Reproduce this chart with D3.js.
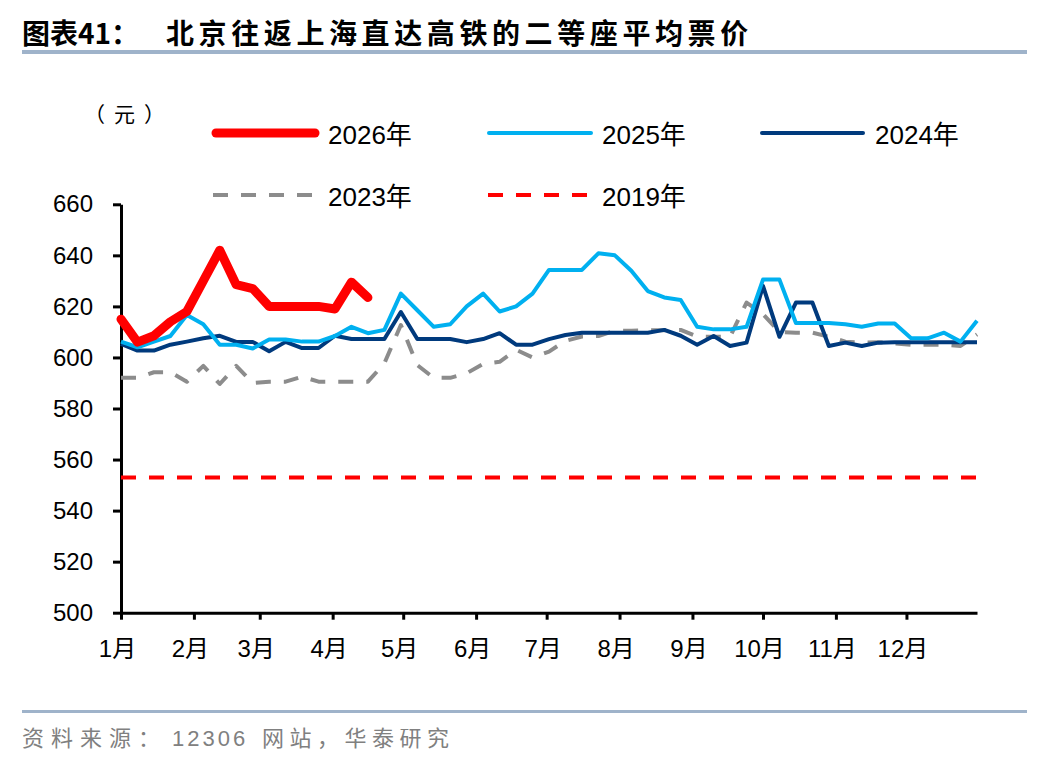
<!DOCTYPE html>
<html>
<head>
<meta charset="utf-8">
<script src="https://cdn.jsdelivr.net/npm/d3@7"></script>
<style>
  body { margin: 0; background: #fff; }
  text { font-family: "Liberation Sans", "Noto Sans CJK SC", sans-serif; }
</style>
</head>
<body>
<svg id="chart" width="1048" height="764"></svg>
<script>
// =========================
// DATA (weekly, week 0 = 1月1日)
// =========================

const monthLabels = ['1月', '2月', '3月', '4月', '5月', '6月', '7月', '8月', '9月', '10月', '11月', '12月'];
const yTicks = [500, 520, 540, 560, 580, 600, 620, 640, 660];

const s2026 = [615, 606, 608.5, 614, 618, 630, 642, 628.5, 627, 620, 620, 620, 620, 619, 629.5, 623.5];

const s2025 = [606.2, 604, 606.2, 608.4, 616.6, 613, 605, 605, 603.5, 607, 607, 606.2, 606.2, 608.4, 612, 609.5,
  610.8, 625, 618.5, 612, 613, 620, 625, 618, 620, 625, 634.3, 634.3, 634.3, 640.8, 640, 634,
  626, 623.5, 622.5, 612, 611, 611, 612, 630.5, 630.5, 613.5, 613.5, 613.5, 613, 612, 613.3, 613.3,
  607.5, 607.5, 609.7, 606.2, 614.4];

const s2024 = [605.3, 602.7, 602.7, 605, 606.2, 607.5, 608.5, 606.1, 606.1, 602.4, 606.1, 603.7, 603.7, 608.5, 607.2, 607.2,
  607.2, 617.8, 607.2, 607.2, 607.2, 606, 607.2, 609.5, 605, 605, 607.2, 608.8, 609.7, 609.7, 609.7, 609.7,
  609.7, 610.8, 608.5, 605, 608.4, 604.5, 605.8, 628, 608.1, 621.5, 621.5, 604.5, 605.8, 604.5, 605.8, 606,
  606, 606, 606, 606, 606];

const s2023 = [592, 592, 594.2, 594.2, 590.5, 596.7, 589.6, 596.7, 590, 590.5, 590.5, 592.5, 590.5, 590.5, 590.5, 590.5,
  597.7, 612.7, 597, 592, 592, 593.8, 597.5, 598.3, 603, 600, 602.3, 606.5, 608.2, 608.4, 610.5, 610.5,
  610.6, 610.7, 610.8, 608.2, 608.1, 608.1, 621.5, 617, 610, 609.7, 609.7, 608.1, 606.2, 605.8, 606, 605.5,
  605, 605, 605, 604.5, 609];

const s2019 = 553;

const seriesNames = ['2026年', '2025年', '2024年', '2023年', '2019年'];

// =========================
// SETUP
// =========================

const svg = d3.select('#chart');

const colors = {
  red: '#ff0000',
  lightBlue: '#00b0f0',
  navy: '#003a7d',
  gray: '#8c8c8c',
  rule: '#9fb3ca'
};

const year = 2025;
const start = new Date(year, 0, 1);
const end = new Date(year, 11, 31);
const weekDate = i => d3.timeDay.offset(start, i * 7);

const x = d3.scaleTime()
  .domain([start, end])
  .range([121, 977]);

const y = d3.scaleLinear()
  .domain([500, 660])
  .range([612.7, 204.3]);

// =========================
// TITLE + RULES
// =========================

const title = svg.append('text')
  .attr('x', 22)
  .attr('y', 44)
  .style('font-family', '"Noto Sans CJK SC", sans-serif')
  .style('font-weight', 700)
  .style('font-size', '28px')
  .attr('fill', '#000');

title.append('tspan').text('图表41：');
title.append('tspan')
  .attr('x', 166)
  .style('letter-spacing', '4.6px')
  .text('北京往返上海直达高铁的二等座平均票价');

svg.append('rect')
  .attr('x', 22).attr('y', 50)
  .attr('width', 1005).attr('height', 4)
  .attr('fill', colors.rule);

svg.append('rect')
  .attr('x', 22).attr('y', 710)
  .attr('width', 1005).attr('height', 3)
  .attr('fill', colors.rule);

// source line
const source = svg.append('text')
  .attr('y', 746)
  .style('font-size', '22px')
  .attr('fill', '#808080');

source.append('tspan').attr('x', 22).style('letter-spacing', '7px').text('资料来源：');
source.append('tspan').attr('x', 172).style('letter-spacing', '3px').text('12306');
source.append('tspan').attr('x', 262).style('letter-spacing', '5.5px').text('网站，华泰研究');

svg.append('text')
  .attr('x', 84)
  .attr('y', 113)
  .attr('dominant-baseline', 'central')
  .style('font-family', '"Noto Sans CJK SC", sans-serif')
  .style('font-size', '21px')
  .style('letter-spacing', '9px')
  .attr('fill', '#000')
  .text('（元）');

// =========================
// AXES
// =========================

const yAxis = svg.append('g')
  .attr('transform', `translate(${x(start)},0)`)
  .call(d3.axisLeft(y).tickValues(yTicks).tickSize(8).tickSizeOuter(0).tickPadding(20));

yAxis.selectAll('text')
  .style('font-size', '24px')
  .attr('fill', '#000');

const monthTicks = d3.timeMonth.range(start, end);

const xAxis = svg.append('g')
  .attr('transform', `translate(0,${y(500)})`)
  .call(d3.axisBottom(x)
    .tickValues(monthTicks)
    .tickFormat((d, i) => monthLabels[i])
    .tickSize(7)
    .tickSizeOuter(0)
    .tickPadding(20));

xAxis.selectAll('text')
  .style('font-size', '24px')
  .attr('dx', -4)
  .attr('fill', '#000');

svg.selectAll('.domain, .tick line')
  .attr('stroke', '#000')
  .attr('stroke-width', 3);

// =========================
// LINES
// =========================

const line = d3.line()
  .x((d, i) => x(weekDate(i)))
  .y(d => y(d));

// 2019 reference level
svg.append('line')
  .attr('x1', x(start))
  .attr('x2', x(weekDate(s2025.length - 1)))
  .attr('y1', y(s2019))
  .attr('y2', y(s2019))
  .attr('stroke', colors.red)
  .attr('stroke-width', 4)
  .attr('stroke-dasharray', '15,13');

svg.append('path')
  .datum(s2023)
  .attr('d', line)
  .attr('fill', 'none')
  .attr('stroke', colors.gray)
  .attr('stroke-width', 4)
  .attr('stroke-dasharray', '15,13')
  .attr('stroke-linejoin', 'round');

svg.append('path')
  .datum(s2024)
  .attr('d', line)
  .attr('fill', 'none')
  .attr('stroke', colors.navy)
  .attr('stroke-width', 4)
  .attr('stroke-linejoin', 'round');

svg.append('path')
  .datum(s2025)
  .attr('d', line)
  .attr('fill', 'none')
  .attr('stroke', colors.lightBlue)
  .attr('stroke-width', 4)
  .attr('stroke-linejoin', 'round');

svg.append('path')
  .datum(s2026)
  .attr('d', line)
  .attr('fill', 'none')
  .attr('stroke', colors.red)
  .attr('stroke-width', 9)
  .attr('stroke-linejoin', 'round')
  .attr('stroke-linecap', 'round');

// =========================
// LEGEND
// =========================

const legendItems = [
  { name: seriesNames[0], color: colors.red, width: 9, dash: null, lx: 216, ly: 133, len: 99 },
  { name: seriesNames[1], color: colors.lightBlue, width: 4, dash: null, lx: 489, ly: 133, len: 102 },
  { name: seriesNames[2], color: colors.navy, width: 4, dash: null, lx: 762, ly: 133, len: 101 },
  { name: seriesNames[3], color: colors.gray, width: 4, dash: '15,13', lx: 213, ly: 195, len: 100 },
  { name: seriesNames[4], color: colors.red, width: 4, dash: '15,13', lx: 488, ly: 195, len: 100 }
];

const legend = svg.append('g');

legendItems.forEach(item => {
  legend.append('line')
    .attr('x1', item.lx)
    .attr('x2', item.lx + item.len)
    .attr('y1', item.ly)
    .attr('y2', item.ly)
    .attr('stroke', item.color)
    .attr('stroke-width', item.width)
    .attr('stroke-linecap', item.dash ? 'butt' : 'round')
    .attr('stroke-dasharray', item.dash);

  const textX = item.lx < 300 ? 328 : (item.lx < 600 ? 602 : 875);

  legend.append('text')
    .attr('x', textX)
    .attr('y', item.ly + 11)
    .style('font-size', '26px')
    .attr('fill', '#000')
    .text(item.name);
});
</script>
</body>
</html>
